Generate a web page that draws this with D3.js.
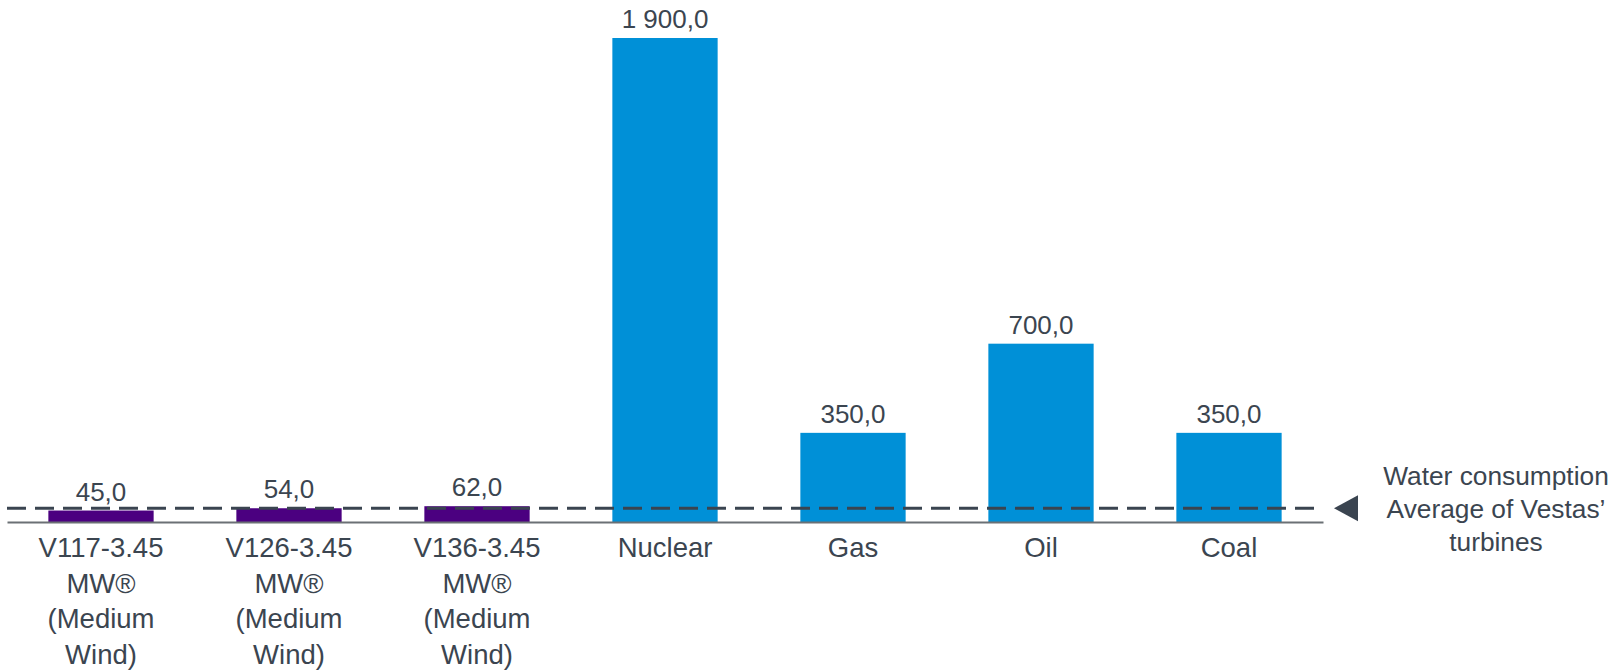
<!DOCTYPE html>
<html>
<head>
<meta charset="utf-8">
<script src="https://cdn.jsdelivr.net/npm/d3@7"></script>
<style>
    html, body { margin: 0; padding: 0; background: #fff; }
    svg { display: block; font-family: "Liberation Sans", Arial, sans-serif; }
</style>
</head>
<body>
<svg id="chart" width="1621" height="671"></svg>
<script>
// data
var categories = [
    ['V117-3.45', 'MW®', '(Medium', 'Wind)'],
    ['V126-3.45', 'MW®', '(Medium', 'Wind)'],
    ['V136-3.45', 'MW®', '(Medium', 'Wind)'],
    ['Nuclear'],
    ['Gas'],
    ['Oil'],
    ['Coal']
];
var values = [45, 54, 62, 1900, 350, 700, 350];
var isWind = [true, true, true, false, false, false, false];
var legendLines = ['Water consumption', 'Average of Vestas’', 'turbines'];

var textColor = '#3b4550';
var blue = '#0090d7';
var purple = '#4b0080';

var svg = d3.select('#chart');

var x = d3.scaleBand()
    .domain(d3.range(values.length))
    .range([7, 1323])
    .paddingInner(0.44)
    .paddingOuter(0.22);

var y = d3.scaleLinear()
    .domain([0, 1900])
    .range([522, 38]);

var fmt = d3.formatLocale({
    decimal: ',',
    thousands: ' ',
    grouping: [3],
    currency: ['', '']
}).format(',.1f');

// bars
svg.append('g')
    .selectAll('rect')
    .data(values)
    .join('rect')
    .attr('x', function (d, i) { return x(i); })
    .attr('y', function (d) { return y(d); })
    .attr('width', x.bandwidth())
    .attr('height', function (d) { return y(0) - y(d); })
    .attr('fill', function (d, i) { return isWind[i] ? purple : blue; });

// value labels
svg.append('g')
    .selectAll('text')
    .data(values)
    .join('text')
    .attr('x', function (d, i) { return x(i) + x.bandwidth() / 2; })
    .attr('y', function (d) { return y(d) - 10; })
    .attr('text-anchor', 'middle')
    .attr('font-size', 26)
    .attr('fill', textColor)
    .text(function (d) { return fmt(d); });

// x axis
var xAxis = svg.append('g')
    .attr('transform', `translate(0,${y(0)})`)
    .call(d3.axisBottom(x).tickSize(0).tickFormat(''));

xAxis.select('.domain')
    .attr('stroke', '#6b7075')
    .attr('stroke-width', 2);

xAxis.selectAll('.tick').each(function (d) {
    var t = d3.select(this).append('text')
        .attr('fill', textColor)
        .attr('font-size', 27.5)
        .attr('text-anchor', 'middle');
    categories[d].forEach(function (line, k) {
        t.append('tspan')
            .attr('x', 0)
            .attr('y', 35 + k * 35.5)
            .text(line);
    });
});

// average line of the wind turbines
var avg = d3.mean(values.filter(function (d, i) { return isWind[i]; }));

svg.append('line')
    .attr('x1', x.range()[0])
    .attr('x2', x.range()[1])
    .attr('y1', y(avg))
    .attr('y2', y(avg))
    .attr('stroke', '#3a4450')
    .attr('stroke-width', 3)
    .attr('stroke-dasharray', '19,9');

// legend
var legend = svg.append('g')
    .attr('transform', `translate(1334,${y(avg)})`);

legend.append('path')
    .attr('d', 'M0,0 L24,-13 L24,13 Z')
    .attr('fill', '#3a4450');

legend.append('text')
    .attr('text-anchor', 'middle')
    .attr('font-size', 26.3)
    .attr('fill', textColor)
    .selectAll('tspan')
    .data(legendLines)
    .join('tspan')
    .attr('x', 162)
    .attr('y', function (d, i) { return -23 + i * 33; })
    .text(function (d) { return d; });
</script>
</body>
</html>
